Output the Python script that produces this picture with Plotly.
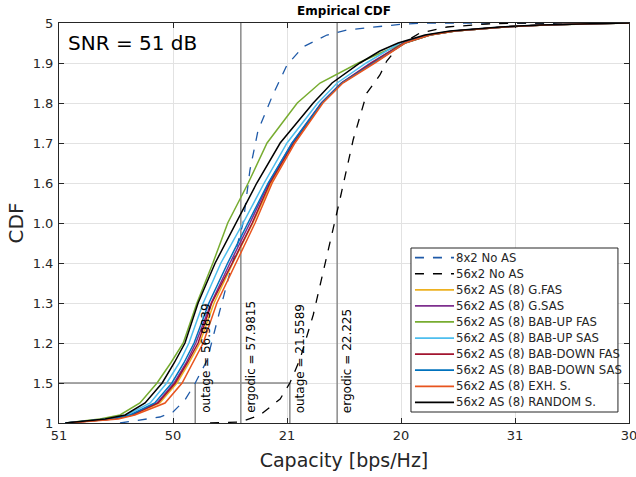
import plotly.graph_objects as go

# ---------------- data ----------------
# CDF levels shared by the antenna-selection curves
cdf_levels = [0, 0.01, 0.02, 0.05, 0.1, 0.15, 0.2, 0.3, 0.4, 0.5, 0.6, 0.7, 0.8,
              0.85, 0.9, 0.93, 0.95, 0.97, 0.98, 0.99, 0.995, 0.998, 1.0]

cap_gfas = [10.12, 10.96, 11.30, 11.77, 12.07, 12.28, 12.47, 12.72, 13.05, 13.40, 13.72, 14.12,
            14.61, 14.96, 15.51, 15.84, 16.07, 16.51, 16.95, 17.82, 18.53, 19.32, 20.0]
cap_gsas = [10.12, 10.93, 11.26, 11.72, 12.02, 12.23, 12.40, 12.67, 13.00, 13.35, 13.68, 14.09,
            14.60, 14.95, 15.47, 15.82, 16.05, 16.49, 16.93, 17.81, 18.51, 19.32, 20.0]
cap_bab_up_fas = [10.11, 10.72, 11.07, 11.42, 11.72, 11.96, 12.18, 12.42, 12.70, 12.96, 13.32, 13.65,
                  14.18, 14.58, 15.25, 15.72, 16.07, 16.51, 16.95, 17.82, 18.53, 19.32, 20.0]
cap_bab_up_sas = [10.11, 10.86, 11.19, 11.60, 11.89, 12.11, 12.28, 12.53, 12.84, 13.23, 13.60, 14.00,
                  14.54, 14.88, 15.39, 15.74, 15.98, 16.46, 16.89, 17.77, 18.47, 19.32, 20.0]
cap_bab_down_fas = [10.12, 10.95, 11.28, 11.74, 12.04, 12.25, 12.44, 12.68, 13.04, 13.39, 13.70, 14.11,
                    14.61, 14.96, 15.49, 15.82, 16.05, 16.49, 16.93, 17.81, 18.51, 19.32, 20.0]
cap_bab_down_sas = [10.11, 10.89, 11.25, 11.68, 11.98, 12.19, 12.37, 12.63, 12.96, 13.32, 13.67, 14.09,
                    14.61, 14.96, 15.51, 15.84, 16.07, 16.51, 16.95, 17.82, 18.53, 19.32, 20.0]
cap_exh = [10.16, 11.04, 11.33, 11.86, 12.16, 12.35, 12.53, 12.77, 13.11, 13.44, 13.74, 14.14,
           14.63, 14.98, 15.54, 15.86, 16.07, 16.51, 16.95, 17.82, 18.53, 19.32, 20.0]
cap_random = [10.11, 10.81, 11.16, 11.51, 11.81, 12.02, 12.21, 12.44, 12.74, 13.11, 13.47, 13.88,
              14.46, 14.79, 15.28, 15.63, 15.95, 16.42, 16.86, 17.74, 18.44, 19.32, 20.0]

# No-AS reference curves
cap_8x2 = [11.07, 11.77, 12.00, 12.21, 12.39, 12.60, 12.82, 13.05, 13.23, 13.35, 13.49, 13.75,
           14.00, 14.28, 14.70, 15.05, 15.51, 16.04, 16.51, 20.0]
cdf_8x2 = [0, 0.015, 0.0275, 0.0575, 0.10, 0.1575, 0.28, 0.4075, 0.50, 0.6325, 0.73, 0.82,
           0.895, 0.94, 0.97, 0.9825, 0.99, 0.9975, 1.0, 1.0]
cap_56x2 = [12.65, 13.18, 13.53, 13.88, 14.05, 14.23, 14.46, 14.63, 14.81, 14.93, 15.16, 15.40,
            15.63, 15.75, 15.98, 16.33, 16.81, 17.51, 18.09, 20.0]
cdf_56x2 = [0, 0.0025, 0.02, 0.06, 0.10, 0.16, 0.27, 0.375, 0.48, 0.56, 0.7075, 0.825,
            0.87, 0.905, 0.945, 0.975, 0.99, 0.9975, 1.0, 1.0]

# markers: outage (10%) and ergodic capacities
outage_x = [12.39, 14.05]
ergodic_x = [13.19, 14.88]
outage_labels = ["outage = 56.9839", "outage = 21.5589"]
ergodic_labels = ["ergodic = 57.9815", "ergodic = 22.225"]
outage_level = 0.1

# axis ticks (labels as shown on the chart)
x_tickvals = [10, 12, 14, 16, 18, 20]
x_ticktext = ["51", "50", "21", "20", "31", "30"]
y_tickvals = [0, 0.1, 0.2, 0.3, 0.4, 0.5, 0.6, 0.7, 0.8, 0.9, 1.0]
y_ticktext = ["1", "1.5", "1.2", "1.3", "1.4", "1.0", "1.6", "1.7", "1.8", "1.9", "5"]

# ---------------- figure ----------------
FONT = "DejaVu Sans"
fig = go.Figure()

series = [
    ("8x2 No AS", cap_8x2, cdf_8x2, "#1f5aa8", "dash", 1.3),
    ("56x2 No AS", cap_56x2, cdf_56x2, "#000000", "dash", 1.3),
    ("56x2 AS (8) G.FAS", cap_gfas, cdf_levels, "#EDB120", "solid", 1.5),
    ("56x2 AS (8) G.SAS", cap_gsas, cdf_levels, "#7E2F8E", "solid", 1.5),
    ("56x2 AS (8) BAB-UP FAS", cap_bab_up_fas, cdf_levels, "#77AC30", "solid", 1.5),
    ("56x2 AS (8) BAB-UP SAS", cap_bab_up_sas, cdf_levels, "#4DBEEE", "solid", 1.5),
    ("56x2 AS (8) BAB-DOWN FAS", cap_bab_down_fas, cdf_levels, "#A2142F", "solid", 1.5),
    ("56x2 AS (8) BAB-DOWN SAS", cap_bab_down_sas, cdf_levels, "#0072BD", "solid", 1.5),
    ("56x2 AS (8) EXH. S.", cap_exh, cdf_levels, "#E8541E", "solid", 1.5),
    ("56x2 AS (8) RANDOM S.", cap_random, cdf_levels, "#000000", "solid", 1.5),
]
for name, xs, ys, col, dash, w in series:
    fig.add_trace(go.Scatter(x=xs, y=ys, mode="lines", name=name,
                             line=dict(color=col, width=w, dash=dash), showlegend=False))

line_col = "#8a8a8a"
# horizontal outage line
fig.add_shape(type="line", x0=x_tickvals[0], x1=outage_x[1], y0=outage_level, y1=outage_level,
              xref="x", yref="y", line=dict(color=line_col, width=1.5), layer="between")
for ox, lab in zip(outage_x, outage_labels):
    fig.add_shape(type="line", x0=ox, x1=ox, y0=0, y1=outage_level, xref="x", yref="y",
                  line=dict(color=line_col, width=1.5), layer="between")
    fig.add_annotation(x=ox, y=0.02, xref="x", yref="y", text=lab, textangle=-90,
                       showarrow=False, xanchor="left", yanchor="bottom", xshift=1,
                       font=dict(family=FONT, size=12, color="#000000"))
for ex, lab in zip(ergodic_x, ergodic_labels):
    fig.add_shape(type="line", x0=ex, x1=ex, y0=0, y1=1, xref="x", yref="y",
                  line=dict(color=line_col, width=1.5), layer="between")
    fig.add_annotation(x=ex, y=0.02, xref="x", yref="y", text=lab, textangle=-90,
                       showarrow=False, xanchor="left", yanchor="bottom", xshift=1,
                       font=dict(family=FONT, size=12, color="#000000"))

fig.add_annotation(x=0.012, y=0.95, xref="paper", yref="paper", text="SNR = 51 dB",
                   showarrow=False, xanchor="left", yanchor="middle",
                   font=dict(family=FONT, size=20, color="#000000"))

# ---- compact legend box (MATLAB style), in paper coordinates ----
L_x0, L_x1 = 0.6175, 0.9806      # box left/right
L_ytop, L_ybot = 0.4375, 0.0275  # box top/bottom
L_line0, L_line1 = 0.6245, 0.6930
L_text = 0.6935
n = len(series)
step = (L_ytop - L_ybot - 0.008) / n
fig.add_shape(type="rect", xref="paper", yref="paper", x0=L_x0, x1=L_x1, y0=L_ybot, y1=L_ytop,
              line=dict(color="#262626", width=1), fillcolor="white", layer="above")
for i, (name, xs, ys, col, dash, w) in enumerate(series):
    yc = L_ytop - 0.004 - step * (i + 0.5)
    fig.add_shape(type="line", xref="paper", yref="paper", x0=L_line0, x1=L_line1, y0=yc, y1=yc,
                  line=dict(color=col, width=w + 0.3, dash=dash), layer="above")
    fig.add_annotation(x=L_text, y=yc, xref="paper", yref="paper", text=name, showarrow=False,
                       xanchor="left", yanchor="middle",
                       font=dict(family=FONT, size=11.7, color="#262626"))

axis_common = dict(showline=True, linecolor="#262626", linewidth=1, mirror="ticks",
                   ticks="inside", ticklen=5, tickcolor="#262626", showgrid=True,
                   gridcolor="#e2e2e2", gridwidth=1, zeroline=False, automargin=False,
                   tickfont=dict(family=FONT, size=13, color="#262626"))

fig.update_xaxes(range=[10, 20], tickmode="array", tickvals=x_tickvals, ticktext=x_ticktext,
                 ticklabeloverflow="allow",
                 title=dict(text="Capacity [bps/Hz]", font=dict(family=FONT, size=19, color="#262626"),
                            standoff=12),
                 **axis_common)
fig.update_yaxes(range=[0, 1], tickmode="array", tickvals=y_tickvals, ticktext=y_ticktext,
                 ticklabelstandoff=2,
                 title=dict(text="CDF", font=dict(family=FONT, size=20, color="#262626"),
                            standoff=3),
                 **axis_common)

fig.update_layout(
    width=636, height=477,
    margin=dict(l=59, r=7, t=23, b=54),
    paper_bgcolor="white", plot_bgcolor="white",
    title=dict(text="<b>Empirical CDF</b>", x=0.541,
               xanchor="center", y=0.977, yanchor="middle",
               font=dict(family=FONT, size=12, color="#000000")),
    showlegend=False,
)

fig.write_html("out.html")
